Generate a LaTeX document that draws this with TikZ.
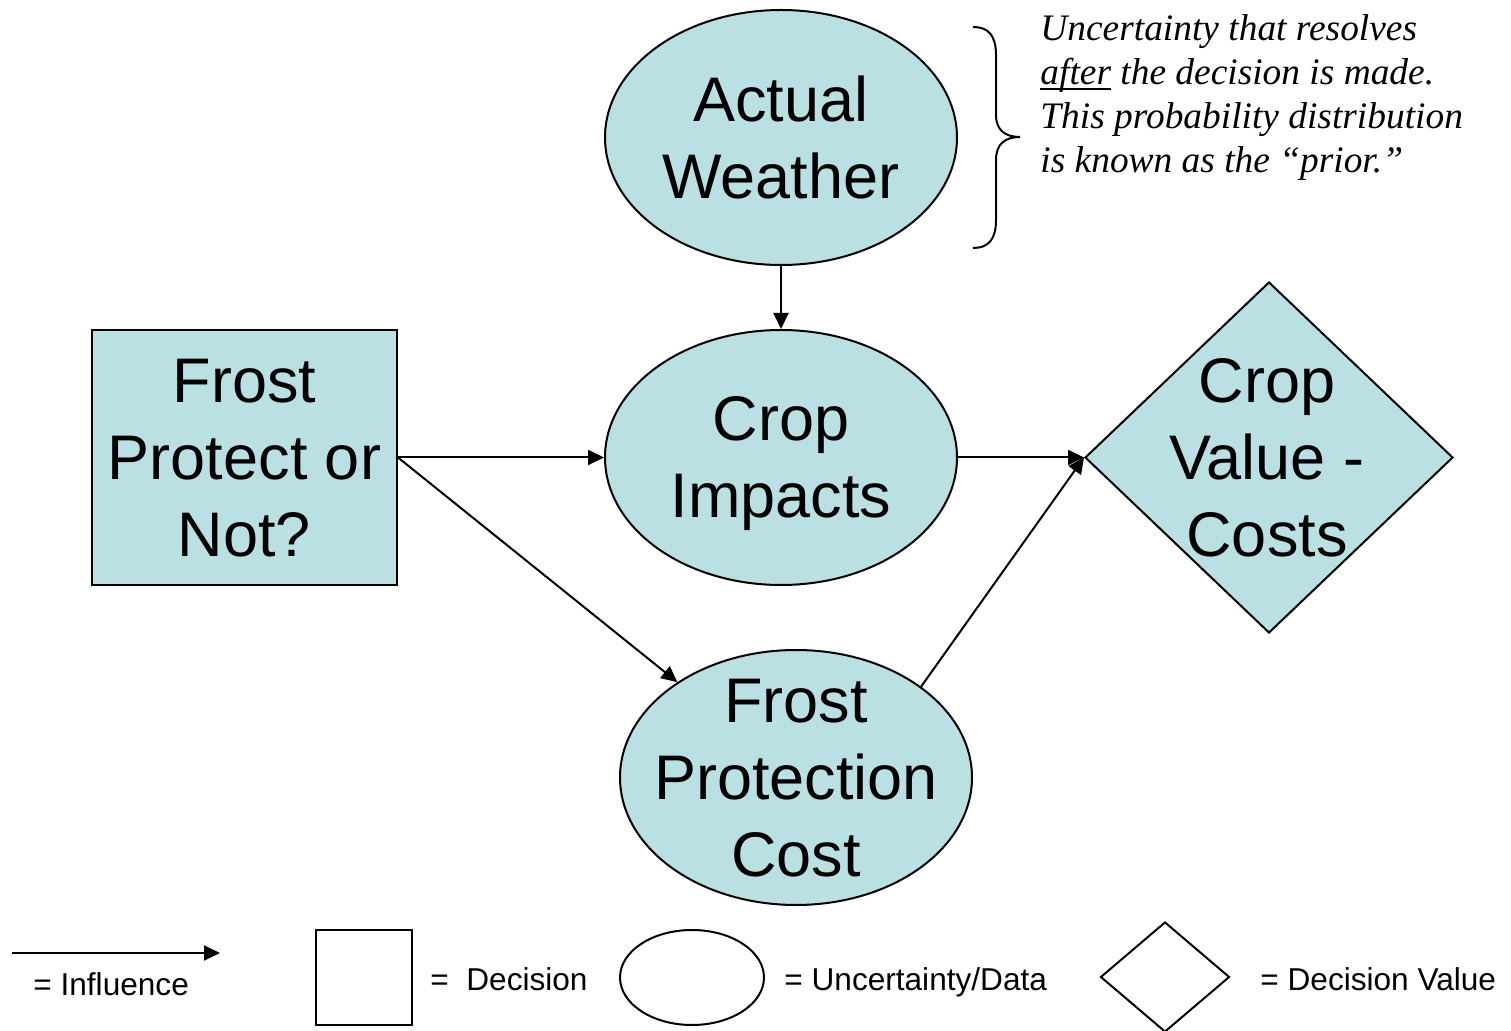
\documentclass[tikz,border=0pt]{standalone}
\usepackage{fontspec}
\setmainfont{Liberation Sans}
\newfontfamily\tnr{Liberation Serif}
\usetikzlibrary{shapes.geometric,arrows.meta}
\definecolor{nodefill}{RGB}{187,224,227}
\newcommand\myuline[1]{\setbox0\hbox{#1}\rlap{\rule[-3pt]{\wd0}{1pt}}\box0\relax}
\tikzset{
  shapeline/.style={draw=black, line width=1pt, inner sep=0pt},
  cell/.style={shapeline, fill=nodefill},
  ovalbox/.style={cell, ellipse, minimum width=176pt, minimum height=127.5pt},
  decbox/.style={cell, rectangle, minimum width=152.5pt, minimum height=127.5pt},
  valbox/.style={cell, diamond, minimum width=184pt, minimum height=175.5pt},
  bigtext/.style={inner sep=0pt, align=center, text depth=0pt, font=\fontsize{31.5}{38.5}\selectfont},
  legtext/.style={inner sep=0pt, anchor=base west, font=\fontsize{15.8}{19}\selectfont},
  arr/.style={line width=1pt, -{Triangle[length=8pt,width=7.5pt]}},
}
\begin{document}
\begin{tikzpicture}[x=0.5pt,y=-0.5pt]
\useasboundingbox (0,0) rectangle (1511,1031);

% main nodes
\node[ovalbox] (aw) at (781,137.5) {};
\node[bigtext] (awt) at (aw) {Actual\\Weather};
\node[ovalbox] (ci) at (781,457.5) {};
\node[bigtext] (cit) at (ci) {Crop\\Impacts};
\node[ovalbox] (fpc) at (796,777.5) {};
\node[bigtext] (fpct) at (fpc) {Frost\\Protection\\Cost};
\node[decbox] (fp) at (244.5,457.5) {};
\node[bigtext] (fpt) at (fp) {Frost\\Protect or\\Not?};
\node[valbox] (cv) at (1269,457.5) {};
\node[bigtext] (cvt) at (1267,457.5) {Crop\\Value -\\Costs};

% connectors
\draw[arr] (aw) -- (ci);
\draw[arr] (fp.east) -- (ci.west);
\draw[arr] (fp.east) -- (fpc);
\draw[arr] (ci.east) -- (cv.west);
\draw[arr] (fpc.36) -- (cv.west);

% brace and note
\draw[line width=1pt] (973,27) .. controls (988,27) and (996,35) .. (996,55)
  -- (996,115) .. controls (996,130) and (1005,137) .. (1020,137)
  .. controls (1005,137) and (996,144) .. (996,160)
  -- (996,220) .. controls (996,240) and (988,248) .. (973,248);
\node[inner sep=0pt, anchor=north west, align=left,
      font=\tnr\itshape\fontsize{18.7}{22}\selectfont] (note) at (1040,14)
  {Uncertainty that resolves\\\myuline{after} the decision is made.\\This probability distribution\\is known as the \textquotedblleft prior.\textquotedblright};

% legend
\coordinate (la) at (12,953);
\coordinate (lb) at (220,953);
\draw[arr] (la) -- (lb);
\node[legtext] (l1) at (33,995) {= Influence};
\node[shapeline, rectangle, minimum width=48pt, minimum height=47.5pt] (lsq) at (364,977.5) {};
\node[legtext] (l2) at (430,990) {=\ \ Decision};
\node[shapeline, ellipse, minimum width=72pt, minimum height=47.5pt] (lel) at (692,977.5) {};
\node[legtext] (l3) at (784,990) {= Uncertainty/Data};
\node[shapeline, diamond, minimum width=64.5pt, minimum height=55pt] (ldi) at (1165,977) {};
\node[legtext] (l4) at (1260,990) {= Decision Value};
\end{tikzpicture}
\end{document}
